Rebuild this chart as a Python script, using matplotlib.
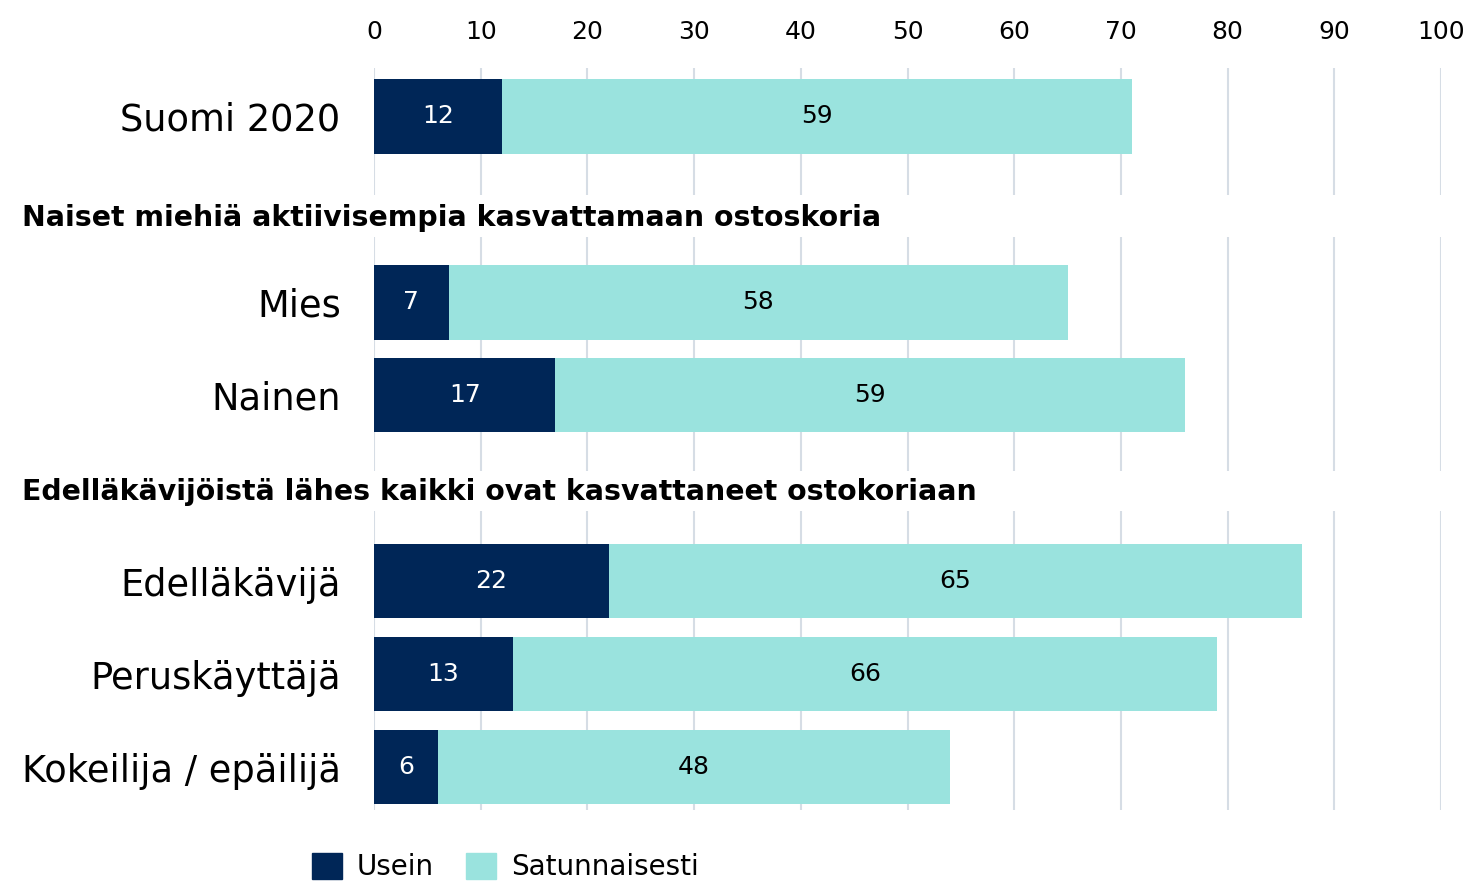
import matplotlib
matplotlib.use('Agg')
import matplotlib.pyplot as plt
from matplotlib.patches import Patch

categories = ['Suomi 2020', 'Mies', 'Nainen', 'Edelläkävijä', 'Peruskäyttäjä', 'Kokeilija / epäilijä']
usein = [12, 7, 17, 22, 13, 6]
satunnaisesti = [59, 58, 59, 65, 66, 48]
headers = ['Naiset miehiä aktiivisempia kasvattamaan ostoskoria',
           'Edelläkävijöistä lähes kaikki ovat kasvattaneet ostokoriaan']
series_names = ['Usein', 'Satunnaisesti']

# layout (rows in units of one bar slot)
row_pos = [0, 2, 3, 5, 6, 7]
header_pos = [1.09, 4.04]
grid_segments = [(-0.52, 0.85), (1.30, 3.81), (4.24, 7.46)]

NAVY = '#002657'
TEAL = '#9ae3de'
GRID = '#d6dde5'

plt.rcParams['font.family'] = ['DejaVu Sans']

fig = plt.figure(figsize=(14.73, 8.82), dpi=100)
ax = fig.add_axes([374 / 1473, 1 - 810 / 882, 1067 / 1473, 742 / 882])

ax.barh(row_pos, usein, height=0.8, color=NAVY, zorder=3)
ax.barh(row_pos, satunnaisesti, left=usein, height=0.8, color=TEAL, zorder=3)

for y, a, b in zip(row_pos, usein, satunnaisesti):
    ax.text(a / 2, y, str(a), ha='center', va='center', color='white', fontsize=18, zorder=4)
    ax.text(a + b / 2, y, str(b), ha='center', va='center', color='black', fontsize=18, zorder=4)

for x in range(0, 101, 10):
    for y0, y1 in grid_segments:
        ax.plot([x, x], [y0, y1], color=GRID, lw=1.5, zorder=1, solid_capstyle='butt')

ax.set_xlim(0, 100)
ax.set_ylim(7.46, -0.52)
ax.set_xticks(range(0, 101, 10))
ax.xaxis.tick_top()
ax.tick_params(axis='x', length=0, pad=17, labelsize=18)
ax.set_yticks(row_pos)
ax.set_yticklabels(categories, fontsize=26.5)
ax.tick_params(axis='y', length=0, pad=24)
for s in ax.spines.values():
    s.set_visible(False)

for y, h in zip(header_pos, headers):
    ax.text(-33.0, y, h, ha='left', va='center', fontsize=20.4, fontweight='bold',
            color='black', clip_on=False)

handles = [Patch(color=NAVY), Patch(color=TEAL)]
fig.legend(handles, series_names, loc='center left', bbox_to_anchor=(287 / 1473, 1 - 867 / 882),
           ncol=2, frameon=False, fontsize=20, handlelength=1.08, handleheight=1.08,
           columnspacing=1.15, handletextpad=0.54)

fig.savefig('out.png', dpi=100)
